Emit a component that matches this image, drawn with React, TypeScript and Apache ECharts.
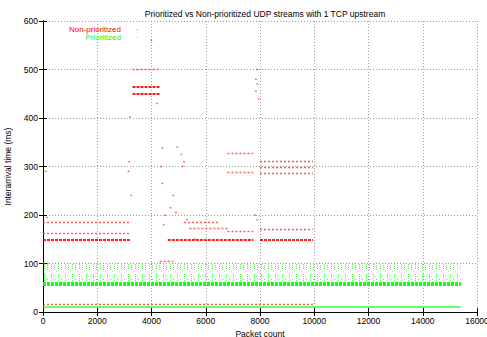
import React, { useEffect, useRef } from "react";
import * as echarts from "echarts";

// ---- data ----
const title = "Prioritized vs Non-prioritized UDP streams with 1 TCP upstream";
const xName = "Packet count";
const yName = "Interarrival time (ms)";
const legendNames = ["Non-prioritized", "Prioritized"];

// [xStart, xEnd, interarrival ms] — heavily populated rows of red dots
const redDenseBands: number[][] = [
  [0, 3200, 148],
  [4600, 7750, 148],
  [8000, 9950, 148],
  [3300, 4300, 464],
  [3300, 4300, 451],
];
// thinner rows of red dots
const redSparseBands: number[][] = [
  [0, 3200, 163],
  [0, 3200, 185],
  [5200, 6500, 185],
  [5400, 6800, 172],
  [6800, 7750, 166],
  [8000, 9950, 170],
  [6800, 7750, 327],
  [6800, 7750, 288],
  [8000, 9950, 310],
  [8000, 9950, 298],
  [8000, 9950, 286],
  [3300, 4300, 500],
  [4300, 4800, 104],
  [0, 200, 100],
  [0, 10000, 17],
];
// isolated red dots
const redPoints: number[][] = [
  [3200, 402], [3250, 240], [3150, 290], [3180, 310], [4200, 430],
  [4400, 338], [4950, 340], [5100, 325], [5150, 300], [4400, 265],
  [4800, 240], [5200, 310], [4500, 200], [4900, 205], [5300, 190],
  [4350, 300], [4700, 215], [7850, 480], [7900, 500], [7850, 455],
  [7950, 440], [7900, 470], [7820, 200], [7900, 190], [150, 195],
  [100, 290], [4000, 560], [5600, 150], [4450, 180],
];
// green rows
const greenDenseBands: number[][] = [
  [0, 15400, 59],
];
const greenThinBands: number[][] = [
  [0, 15400, 11],
];
// spread of green dots above the main row: [xStart, xEnd, yLow, yHigh]
const greenSpread: number[][] = [
  [0, 15400, 63, 100],
];

function makeDotPattern(): string {
  const c = document.createElement("canvas");
  c.width = 7;
  c.height = 18;
  const ctx = c.getContext("2d");
  if (!ctx) return "";
  ctx.fillStyle = "rgba(0,235,0,0.7)";
  for (let y = 4; y < 18; y += 2) ctx.fillRect(2, y, 1, 1);
  for (let y = 9; y < 18; y += 2) ctx.fillRect(5, y, 1, 1);
  ctx.fillStyle = "rgba(0,235,0,0.4)";
  ctx.fillRect(0, 1, 1, 1);
  ctx.fillRect(4, 6, 1, 1);
  return c.toDataURL();
}

export default function App() {
  const ref = useRef<HTMLDivElement>(null);
  useEffect(() => {
    if (!ref.current) return;
    const chart = echarts.init(ref.current, null, { renderer: "svg" });
    const font = "Liberation Sans, Arial, sans-serif";
    const pattern = makeDotPattern();
    const seg = (arr: number[][]) =>
      arr.map(([a, b, y]) => ({ coords: [[a, y], [b, y]] }));
    const axisCommon = {
      axisLine: { show: true, lineStyle: { color: "#000", width: 1 } },
      axisTick: { show: true, inside: true, length: 4, lineStyle: { color: "#000" } },
    };
    const plain = (v: number) => String(v);
    chart.setOption({
      animation: false,
      backgroundColor: "#fff",
      title: {
        text: title,
        left: 260,
        textAlign: "center",
        top: 4,
        textStyle: { fontFamily: font, fontSize: 8.5, fontWeight: "normal", color: "#000" },
      },
      grid: {
        left: 43,
        right: 10,
        top: 21,
        bottom: 25,
        show: false,
        containLabel: false,
        outerBoundsMode: "none",
      },
      xAxis: [
        {
          type: "value",
          min: 0,
          max: 16000,
          interval: 2000,
          name: xName,
          nameLocation: "middle",
          nameGap: 10,
          nameTextStyle: { fontFamily: font, fontSize: 8.5, color: "#000" },
          axisLabel: { fontFamily: font, fontSize: 8.5, color: "#000", margin: 4, formatter: plain },
          splitLine: { show: true, lineStyle: { color: "#9a9a9a", type: [1, 2], width: 1 } },
          ...axisCommon,
        },
        {
          type: "value",
          position: "top",
          min: 0,
          max: 16000,
          interval: 2000,
          axisLabel: { show: false },
          splitLine: { show: false },
          ...axisCommon,
        },
      ],
      yAxis: [
        {
          type: "value",
          min: 0,
          max: 600,
          interval: 100,
          name: yName,
          nameLocation: "middle",
          nameGap: 25,
          nameTextStyle: { fontFamily: font, fontSize: 8.5, color: "#000" },
          axisLabel: { fontFamily: font, fontSize: 8.5, color: "#000", margin: 5, formatter: plain },
          splitLine: { show: true, lineStyle: { color: "#9a9a9a", type: [1, 2], width: 1 } },
          ...axisCommon,
        },
        {
          type: "value",
          position: "right",
          min: 0,
          max: 600,
          interval: 100,
          axisLabel: { show: false },
          splitLine: { show: false },
          ...axisCommon,
        },
      ],
      series: [
        {
          type: "custom",
          name: "green spread",
          silent: true,
          renderItem: (_p: any, api: any) => {
            const p0 = api.coord([api.value(0), api.value(3)]);
            const p1 = api.coord([api.value(1), api.value(2)]);
            return {
              type: "rect",
              shape: { x: p0[0], y: p0[1], width: p1[0] - p0[0], height: p1[1] - p0[1] },
              style: {
                fill: pattern
                  ? { image: pattern, repeat: "repeat" }
                  : "rgba(0,255,0,0.18)",
              },
            };
          },
          encode: { x: [0, 1], y: [2, 3] },
          data: greenSpread,
        },
        {
          type: "lines",
          coordinateSystem: "cartesian2d",
          silent: true,
          data: seg(greenThinBands),
          lineStyle: { color: "#00ff00", width: 1.5, opacity: 0.8, type: "solid" },
        },
        {
          type: "lines",
          coordinateSystem: "cartesian2d",
          silent: true,
          data: seg(greenDenseBands),
          lineStyle: { color: "#00ff00", width: 4, opacity: 0.95, type: [3, 1] },
        },
        {
          type: "lines",
          coordinateSystem: "cartesian2d",
          silent: true,
          data: seg(redSparseBands),
          lineStyle: { color: "#ff3030", width: 1.3, opacity: 0.8, type: [2, 2] },
        },
        {
          type: "lines",
          coordinateSystem: "cartesian2d",
          silent: true,
          data: seg(redDenseBands),
          lineStyle: { color: "#ff0000", width: 2, opacity: 0.9, type: [3, 1] },
        },
        {
          type: "scatter",
          silent: true,
          symbol: "rect",
          symbolSize: 1.5,
          itemStyle: { color: "#ff0000", opacity: 0.7 },
          data: redPoints,
        },
      ],
      graphic: [
        {
          type: "text",
          x: 121,
          y: 25,
          style: { text: legendNames[0], fill: "#ff0000", font: `8px ${font}`, align: "right", verticalAlign: "top" },
        },
        {
          type: "text",
          x: 121,
          y: 33.5,
          style: { text: legendNames[1], fill: "#00ff00", font: `8px ${font}`, align: "right", verticalAlign: "top" },
        },
        { type: "rect", shape: { x: 136.5, y: 29, width: 1, height: 1 }, style: { fill: "#ff8080" } },
        { type: "rect", shape: { x: 136.5, y: 37, width: 1, height: 1 }, style: { fill: "#80ff80" } },
      ],
    });
    return () => chart.dispose();
  }, []);
  return (
    <div
      ref={ref}
      style={{ position: "fixed", left: 0, top: 0, width: 487, height: 337 }}
    />
  );
}
